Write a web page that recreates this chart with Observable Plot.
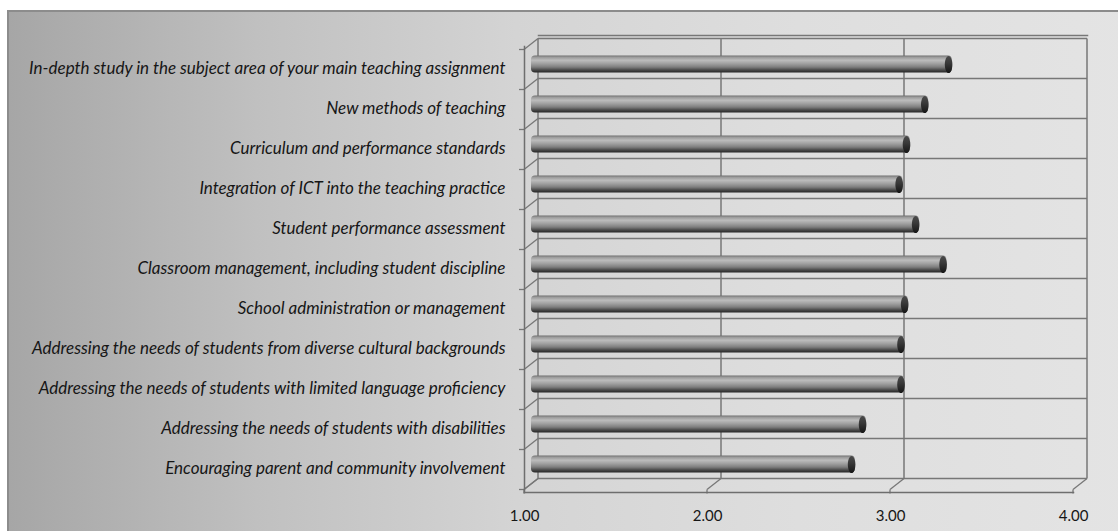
<!DOCTYPE html>
<html>
<head>
<meta charset="utf-8">
<script src="https://cdn.jsdelivr.net/npm/d3@7"></script>
<script src="https://cdn.jsdelivr.net/npm/@observablehq/plot@0.6"></script>
<style>
  html, body { margin: 0; padding: 0; background: #ffffff; }
  #wrap { position: relative; width: 1118px; height: 531px; overflow: hidden; }
  #bg { position: absolute; left: 7px; top: 10px; width: 1130px; height: 540px;
        border: 2px solid #8c8c8c; box-sizing: border-box;
        background: linear-gradient(to right, #a6a6a6 0%, #c0c0c0 22%, #d4d4d4 45%, #dedede 70%, #e4e4e4 100%); }
  #chart { position: absolute; left: 0; top: 0; }
</style>
</head>
<body>
<div id="wrap"><div id="bg"></div><div id="chart"></div></div>
<script>
const categories = [
  "In-depth study in the subject area of your main teaching assignment",
  "New methods of teaching",
  "Curriculum and performance standards",
  "Integration of ICT into the teaching practice",
  "Student performance assessment",
  "Classroom management, including student discipline",
  "School administration or management",
  "Addressing the needs of students from diverse cultural backgrounds",
  "Addressing the needs of students with limited language proficiency",
  "Addressing the needs of students with disabilities",
  "Encouraging parent and community involvement"
];
const values = [3.30, 3.17, 3.07, 3.03, 3.12, 3.27, 3.06, 3.04, 3.04, 2.83, 2.77];
const ticks = [1, 2, 3, 4];
const tickLabels = ["1.00", "2.00", "3.00", "4.00"];

const data = categories.map((c, i) => ({category: c, value: values[i]}));

const depthX = 7, depthY = 5.5; // half of the 3D depth offset
const gridColor = "#777777";

function walls(index, scales) {
  const x = scales.x, y = scales.y;
  const bw = y.bandwidth ? y.bandwidth() : 40.5;
  const g = d3.create("svg:g");
  const defs = g.append("defs");
  const grad = defs.append("linearGradient").attr("id", "cyl")
    .attr("x1", 0).attr("y1", 0).attr("x2", 0).attr("y2", 1);
  [[0, "#6e6e6e"], [0.1, "#9a9a9a"], [0.28, "#bcbcbc"], [0.48, "#a0a0a0"], [0.68, "#7e7e7e"], [0.85, "#4a4a4a"], [1, "#262626"]]
    .forEach(([o, c]) => grad.append("stop").attr("offset", o).attr("stop-color", c));
  const cap = defs.append("linearGradient").attr("id", "cap")
    .attr("x1", 0).attr("y1", 0).attr("x2", 0).attr("y2", 1);
  [[0, "#4a4a4a"], [0.4, "#3a3a3a"], [1, "#151515"]]
    .forEach(([o, c]) => cap.append("stop").attr("offset", o).attr("stop-color", c));

  const bounds = categories.map(c => y(c)).concat([y(categories[categories.length - 1]) + bw]);
  const x0 = x(ticks[0]), x1 = x(ticks[ticks.length - 1]);
  const top = bounds[0], bot = bounds[bounds.length - 1];
  const line = (ax, ay, bx, by, w = 1.5) => g.append("line")
    .attr("x1", ax).attr("y1", ay).attr("x2", bx).attr("y2", by)
    .attr("stroke", gridColor).attr("stroke-width", w);
  // back wall horizontal gridlines
  bounds.forEach(b => line(x0 + depthX, b - depthY, x1 + depthX, b - depthY));
  // back wall vertical gridlines
  ticks.forEach(t => line(x(t) + depthX, top - depthY, x(t) + depthX, bot - depthY));
  // left side diagonals + ticks
  bounds.forEach(b => {
    line(x0 - depthX, b + depthY, x0 + depthX, b - depthY, 1.3);
    line(x0 - depthX - 5, b + depthY, x0 - depthX, b + depthY, 1.3);
  });
  // bottom diagonals + ticks
  ticks.forEach(t => {
    line(x(t) - depthX, bot + depthY, x(t) + depthX, bot - depthY, 1.3);
    line(x(t) - depthX, bot + depthY, x(t) - depthX, bot + depthY + 4, 1.3);
  });
  return g.node();
}

const ellipse = {
  draw(ctx) {
    const rx = 3.8, ry = 8.6, k = 0.5523;
    ctx.moveTo(rx, 0);
    ctx.bezierCurveTo(rx, ry * k, rx * k, ry, 0, ry);
    ctx.bezierCurveTo(-rx * k, ry, -rx, ry * k, -rx, 0);
    ctx.bezierCurveTo(-rx, -ry * k, -rx * k, -ry, 0, -ry);
    ctx.bezierCurveTo(rx * k, -ry, rx, -ry * k, rx, 0);
    ctx.closePath();
  }
};

const chart = Plot.plot({
  width: 1118,
  height: 531,
  marginLeft: 524,
  marginRight: 45,
  marginTop: 46,
  marginBottom: 39,
  style: {background: "transparent", fontFamily: "Lato, 'Open Sans', sans-serif", overflow: "visible"},
  x: {domain: [ticks[0], ticks[ticks.length - 1]], range: [531, 1080]},
  y: {domain: categories, range: [40.75, 486.25], padding: 0},
  marks: [
    walls,
    Plot.frame({anchor: "left", stroke: "#6e6e6e", strokeWidth: 1.5}),
    Plot.frame({anchor: "bottom", stroke: "#6e6e6e", strokeWidth: 1.5}),
    Plot.frame({anchor: "top", stroke: gridColor, strokeWidth: 1.5, dx: 14, dy: -11}),
    Plot.barX(data, {
      x1: () => ticks[0], x2: "value", y: "category",
      insetTop: 11.5, insetBottom: 11.5, rx: 4,
      fill: "url(#cyl)"
    }),
    Plot.dot(data, {
      x: "value", y: "category", symbol: ellipse, dx: -3.8,
      fill: "url(#cap)", stroke: "none"
    }),
    Plot.axisY({
      tickSize: 0, tickPadding: 19, dy: 4, label: null,
      fontStyle: "italic", fontSize: 17, fill: "#161616"
    }),
    Plot.axisX(ticks, {
      tickSize: 0, tickPadding: 18, dx: -7, label: null,
      tickFormat: d => tickLabels[ticks.indexOf(d)], fontSize: 15, fill: "#161616"
    })
  ]
});
document.getElementById("chart").appendChild(chart);
</script>
</body>
</html>
